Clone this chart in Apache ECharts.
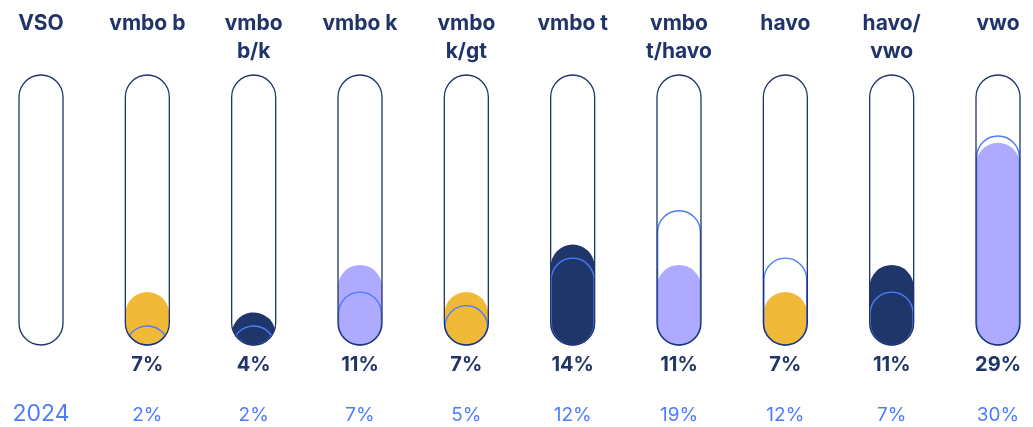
<!DOCTYPE html>
<html>
<head>
<meta charset="utf-8">
<script src="https://cdn.jsdelivr.net/npm/echarts@6/dist/echarts.min.js"></script>
<style>
html,body{margin:0;padding:0;background:#fff;}
#chart{width:1033px;height:427px;}
</style>
</head>
<body>
<div id="chart"></div>
<script>
var categories = ['VSO', 'vmbo b', 'vmbo\nb/k', 'vmbo k', 'vmbo\nk/gt', 'vmbo t', 'vmbo\nt/havo', 'havo', 'havo/\nvwo', 'vwo'];
var current = [null, 7, 4, 11, 7, 14, 11, 7, 11, 29];
var prev2024 = [null, 2, 2, 7, 5, 12, 19, 12, 7, 30];
var prevLabel = '2024';
var fillColors = [null, '#F0BA38', '#1F366A', '#AEAAFF', '#F0BA38', '#1F366A', '#AEAAFF', '#F0BA38', '#1F366A', '#AEAAFF'];

var NAVY = '#1F3468';
var BLUE = '#4D7CFE';
var AX_MIN = -0.8, AX_MAX = 39;

var data = categories.map(function (c, i) {
  return [i, current[i] == null ? NaN : current[i], prev2024[i] == null ? NaN : prev2024[i]];
});

function pillShape(cx, yb, h, r) {
  if (h >= 2 * r) {
    return { type: 'rect', shape: { x: cx - r, y: yb - h, width: 2 * r, height: h, r: r } };
  }
  var c1 = yb - r;
  var c2 = yb - h + r;
  var ym = (c1 + c2) / 2;
  var d = (c2 - c1) / 2;
  var hw = Math.sqrt(Math.max(r * r - d * d, 0));
  var p = 'M' + (cx - hw) + ' ' + ym +
    ' A' + r + ' ' + r + ' 0 0 1 ' + (cx + hw) + ' ' + ym +
    ' A' + r + ' ' + r + ' 0 0 1 ' + (cx - hw) + ' ' + ym + ' Z';
  return { type: 'path', shape: { pathData: p } };
}

function renderItem(params, api) {
  var i = api.value(0);
  var cur = api.value(1);
  var prv = api.value(2);
  var cx = api.coord([i, 0])[0];
  var yb = api.coord([i, AX_MIN])[1];
  var yt = api.coord([i, AX_MAX])[1];
  var r = 22;
  var children = [];
  children.push({ type: 'rect', shape: { x: cx - r, y: yt, width: 2 * r, height: yb - yt, r: r },
    style: { fill: '#fff', stroke: null } });
  if (!isNaN(cur)) {
    var h = yb - api.coord([i, cur])[1];
    var s = pillShape(cx, yb, h, r);
    s.style = { fill: fillColors[i], stroke: null };
    children.push(s);
  }
  if (!isNaN(prv)) {
    var h2 = yb - api.coord([i, prv])[1];
    var s2 = pillShape(cx, yb, h2, r - 0.6);
    s2.style = { fill: null, stroke: BLUE, lineWidth: 1.4 };
    children.push(s2);
  }
  children.push({ type: 'rect', shape: { x: cx - r, y: yt, width: 2 * r, height: yb - yt, r: r },
    style: { fill: null, stroke: NAVY, lineWidth: 1.3 } });
  children.push({ type: 'text', style: {
    text: categories[i], x: cx, y: 10, align: 'center', verticalAlign: 'top',
    fill: NAVY, font: 'bold 21px Inter', lineHeight: 28 } });
  if (!isNaN(cur)) {
    children.push({ type: 'text', style: {
      text: cur + '%', x: cx, y: 365, align: 'center', verticalAlign: 'middle',
      fill: NAVY, font: 'bold 20px Inter' } });
  }
  var bottomText = isNaN(prv) ? (i === 0 ? prevLabel : '') : prv + '%';
  children.push({ type: 'text', style: {
    text: bottomText, x: cx, y: i === 0 ? 414 : 415, align: 'center', verticalAlign: 'middle',
    fill: BLUE, font: (i === 0 ? '23px' : '19px') + ' Inter' } });
  return { type: 'group', children: children };
}

var chart = echarts.init(document.getElementById('chart'), null, { renderer: 'canvas' });
chart.setOption({
  animation: false,
  grid: { left: 41, right: 35, top: 75, bottom: 82 },
  xAxis: { type: 'category', data: categories, boundaryGap: false, show: false },
  yAxis: { type: 'value', min: AX_MIN, max: AX_MAX, show: false },
  series: [{
    type: 'custom',
    clip: false,
    renderItem: renderItem,
    data: data,
    encode: { x: 0, y: 1 }
  }]
});
</script>
</body>
</html>
